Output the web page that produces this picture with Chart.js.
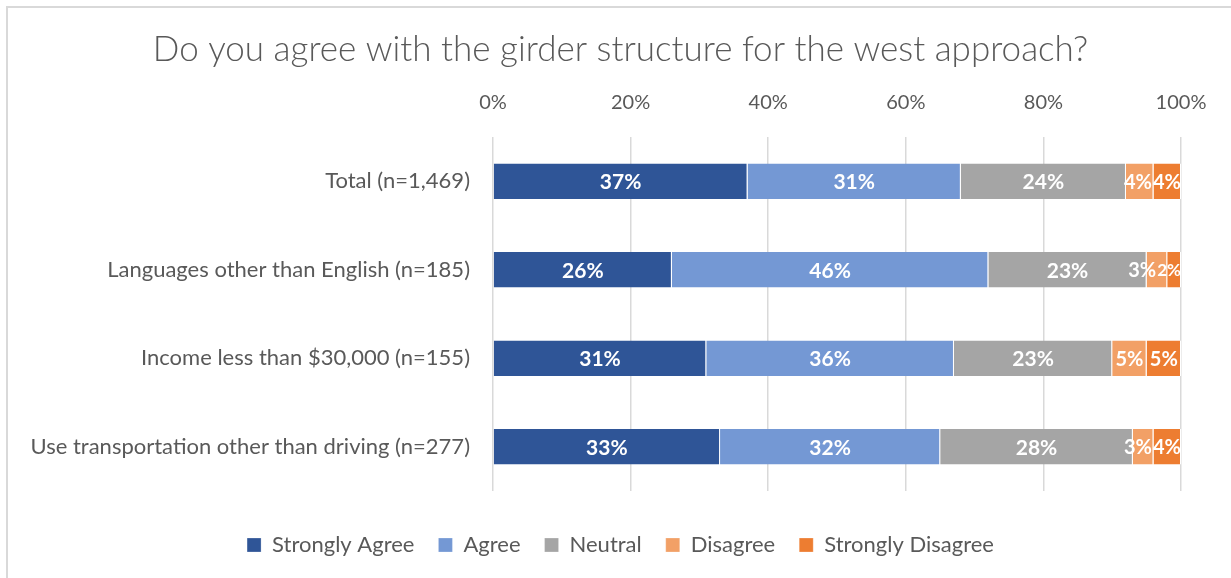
<!DOCTYPE html>
<html><head><meta charset="utf-8">
<script src="https://cdn.jsdelivr.net/npm/chart.js@4.4.0/dist/chart.umd.min.js"></script>
<style>
html,body{margin:0;padding:0;background:#fff;overflow:hidden;width:1231px;height:578px}
#frame{position:absolute;left:6px;top:6px;width:1400px;height:800px;border-left:2px solid #d9d9d9;border-top:2px solid #d9d9d9;box-sizing:border-box}
#wrap{position:absolute;left:0;top:0;width:1231px;height:578px}
</style></head><body>
<div id="frame"></div>
<div id="wrap"><canvas id="c"></canvas></div>
<script>
const categories = ["Total (n=1,469)", "Languages other than English (n=185)", "Income less than $30,000 (n=155)", "Use transportation other than driving (n=277)"];
const seriesNames = ["Strongly Agree", "Agree", "Neutral", "Disagree", "Strongly Disagree"];
const stronglyAgree = [37, 26, 31, 33];
const agree = [31, 46, 36, 32];
const neutral = [24, 23, 23, 28];
const disagree = [4, 3, 5, 3];
const stronglyDisagree = [4, 2, 5, 4];
const tickValues = [0, 20, 40, 60, 80, 100];
const titleText = "Do you agree with the girder structure for the west approach?";

const colors = ["#2F5597", "#7498D4", "#A5A5A5", "#F2A066", "#ED7D31"];
const seriesData = [stronglyAgree, agree, neutral, disagree, stronglyDisagree];
const FONT = "Lato, 'Open Sans', sans-serif";
const GREY = "#595959";

const labelPlugin = {
  id: 'segLabels',
  afterDatasetsDraw(chart) {
    const ctx = chart.ctx;
    const area = chart.chartArea;
    ctx.save();
    ctx.fillStyle = "#ffffff";
    ctx.textAlign = "center";
    ctx.textBaseline = "middle";
    const nCat = chart.data.labels.length;
    for (let i = 0; i < nCat; i++) {
      const items = [];
      chart.data.datasets.forEach((ds, di) => {
        const el = chart.getDatasetMeta(di).data[i];
        const v = ds.data[i];
        const fs = v <= 2 ? 17 : (v <= 5 ? 20 : 21);
        const font = "bold " + fs + "px " + FONT;
        ctx.font = font;
        const w = ctx.measureText(v + "%").width;
        items.push({text: v + "%", font, w, cx: (el.x + el.base) / 2, y: el.y});
      });
      // keep labels inside the plot and apart from each other, right to left
      let limit = area.right;
      for (let k = items.length - 1; k >= 0; k--) {
        const it = items[k];
        if (it.cx + it.w / 2 > limit) it.cx = limit - it.w / 2;
        limit = it.cx - it.w / 2 - 1;
      }
      items.forEach(it => {
        ctx.font = it.font;
        ctx.fillText(it.text, it.cx, it.y + 1);
      });
    }
    ctx.restore();
  }
};

new Chart(document.getElementById('c'), {
  type: 'bar',
  data: {
    labels: categories,
    datasets: seriesNames.map((n, i) => ({
      label: n,
      data: seriesData[i],
      backgroundColor: colors[i],
      borderColor: "#ffffff",
      borderWidth: {left: 0, right: 1, top: 0, bottom: 0},
      borderSkipped: false,
      barPercentage: 0.8,
      categoryPercentage: 0.5,
      xAxisID: 'x',
      yAxisID: 'y'
    }))
  },
  options: {
    indexAxis: 'y',
    responsive: true,
    maintainAspectRatio: false,
    animation: false,
    layout: {padding: {left: 10, right: 0, top: 0, bottom: 12}},
    scales: {
      x: {
        position: 'top',
        stacked: true,
        min: 0, max: 100,
        afterBuildTicks: s => { s.ticks = tickValues.map(v => ({value: v})); },
        ticks: {callback: v => v + "%", color: GREY, font: {family: FONT, size: 20}, padding: 22},
        grid: {color: "#d9d9d9", lineWidth: 1.5, drawTicks: false},
        border: {display: false},
        afterFit: s => { s.height = 48; }
      },
      xPad: {
        type: 'linear',
        position: 'bottom',
        display: true,
        ticks: {display: false},
        grid: {display: false, drawTicks: false},
        border: {display: false},
        afterFit: s => { s.height = 19; }
      },
      y: {
        stacked: true,
        grid: {display: false, drawTicks: false},
        border: {display: false},
        ticks: {color: GREY, font: {family: FONT, size: 22}, padding: 23},
        afterFit: s => { s.width = 483; }
      },
      yPad: {
        type: 'linear',
        position: 'right',
        display: true,
        ticks: {display: false},
        grid: {display: false, drawTicks: false},
        border: {display: false},
        afterFit: s => { s.width = 50; }
      }
    },
    plugins: {
      title: {display: true, text: titleText, color: GREY, font: {family: FONT, size: 35, weight: '300'}, padding: {top: 29, bottom: 18}},
      legend: {position: 'bottom', labels: {boxWidth: 14, boxHeight: 14, color: GREY, font: {family: FONT, size: 22}, padding: 24}},
      tooltip: {enabled: false}
    }
  },
  plugins: [labelPlugin]
});
</script>
</body></html>
